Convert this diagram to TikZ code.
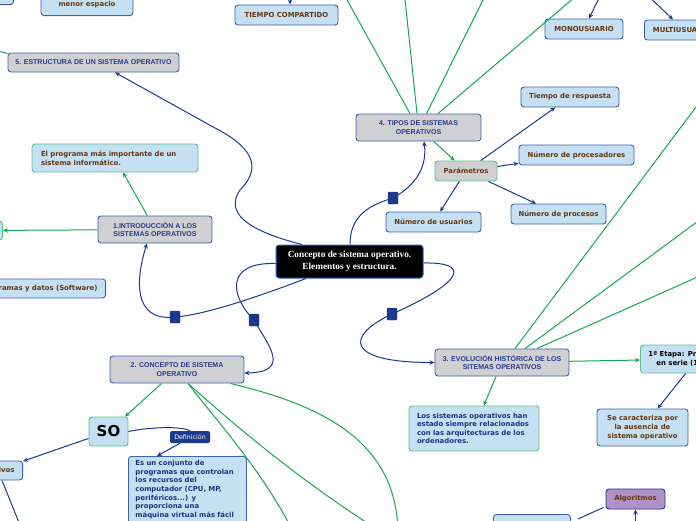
\documentclass[tikz,border=0pt]{standalone}
\usepackage{fontspec}
\setmainfont{DejaVu Sans}
\newfontfamily\titlefont{Liberation Sans}
\newfontfamily\centrefont{Liberation Serif}
\usetikzlibrary{arrows.meta, positioning}
\definecolor{linkblue}{RGB}{28,58,140}
\definecolor{linkgreen}{RGB}{18,168,82}
\definecolor{boxgray}{RGB}{208,208,211}
\definecolor{boxblue}{RGB}{198,224,243}
\definecolor{borderblue}{RGB}{62,96,168}
\definecolor{bordergreen}{RGB}{92,192,140}
\definecolor{titleblue}{RGB}{40,60,140}
\definecolor{leafbrown}{RGB}{100,55,15}
\definecolor{navytext}{RGB}{30,50,130}
\definecolor{centreborder}{RGB}{40,100,200}
\definecolor{algofill}{RGB}{176,146,200}

\begin{document}
\begin{tikzpicture}[
    x=1pt, y=-1pt,
    topic/.style={draw=borderblue, fill=boxgray, line width=0.9pt, rounded corners=3pt,
        align=center, text=titleblue, inner sep=2pt,
        font=\titlefont\bfseries\fontsize{7}{8.4}\selectfont},
    leaf/.style={draw=borderblue, fill=boxblue, line width=0.9pt, rounded corners=3pt,
        align=center, text=leafbrown, inner sep=2pt, minimum height=20pt,
        font=\bfseries\fontsize{6.9}{8.6}\selectfont},
    greenleaf/.style={leaf, draw=bordergreen},
    bluelink/.style={draw=linkblue, line width=1pt, -{Stealth[length=5pt,width=4.5pt]}},
    blueline/.style={draw=linkblue, line width=1pt},
    greenlink/.style={draw=linkgreen, line width=1pt, -{Stealth[length=5pt,width=4.5pt]}},
    greenline/.style={draw=linkgreen, line width=1pt},
    sqmark/.style={fill=linkblue, draw=linkblue, minimum width=10pt, minimum height=12pt,
        inner sep=0pt, rounded corners=1pt}
]
    \useasboundingbox (0,0) rectangle (696,520);
    \clip (0,0) rectangle (696,520);

    % Centre
    \node[draw=centreborder, fill=black, text=white, line width=1pt, rounded corners=3pt,
        minimum width=147pt, minimum height=33pt, align=center,
        font=\centrefont\bfseries\fontsize{9.3}{11.7}\selectfont]
        (centre) at (349.5,261.5) {Concepto de sistema operativo.\\Elementos y estructura.};

    % Topics
    \node[topic, minimum width=171pt, minimum height=19pt] (estructura) at (93.5,62.5) {5. ESTRUCTURA DE UN SISTEMA OPERATIVO};
    \node[topic, minimum width=125pt, minimum height=27pt] (tipos) at (418.5,127.5) {4. TIPOS DE SISTEMAS\\OPERATIVOS};
    \node[topic, minimum width=114pt, minimum height=27pt] (intro) at (155,229.5) {1.INTRODUCCIÓN A LOS\\SISTEMAS OPERATIVOS};
    \node[topic, minimum width=134pt, minimum height=27pt] (concepto) at (177,369.5) {2. CONCEPTO DE SISTEMA\\OPERATIVO};
    \node[topic, minimum width=134pt, minimum height=27pt] (evolucion) at (502,362.5) {3. EVOLUCIÓN HISTÓRICA DE LOS\\SITEMAS OPERATIVOS};

    % 4. Tipos
    \node[leaf, fill=boxgray, draw=bordergreen, minimum width=62pt] (param) at (466,171) {Parámetros};
    \node[leaf, minimum width=98pt] (respuesta) at (570,97) {Tiempo de respuesta};
    \node[leaf, minimum width=115pt] (procesadores) at (576.5,155) {Número de procesadores};
    \node[leaf, minimum width=95pt] (procesos) at (558.5,214) {Número de procesos};
    \node[leaf, minimum width=95pt] (usuarios) at (433.5,222) {Número de usuarios};
    \node[leaf, minimum width=103pt] (compartido) at (286.5,15) {TIEMPO COMPARTIDO};
    \node[leaf, minimum width=78pt] (mono) at (584,29) {MONOUSUARIO};
    \node[leaf, anchor=west, inner xsep=8.5pt] (multi) at (644,30) {MULTIUSUARIO};

    % top left corner
    \node[leaf, anchor=south, minimum width=92pt, minimum height=30pt] (espacio) at (87,16) {máximo dentro del\\menor espacio};
    \node[leaf, anchor=south east, minimum width=40pt] (esquina) at (14,5) {};

    % 1. Introduccion
    \node[greenleaf, text width=148pt, inner xsep=9pt, align=left, minimum height=28pt] (programa) at (115,158) {El programa más importante de un\\sistema informático.};
    \node[greenleaf, anchor=east, minimum width=40pt, minimum height=19pt] (izquierda) at (3,230.5) {};
    \node[leaf, anchor=east, inner xsep=8pt, minimum height=19pt] (software) at (106,288.5) {Programas y datos (Software)};

    % 2. Concepto
    \node[greenleaf, text=black, minimum width=39pt, minimum height=29pt,
        font=\bfseries\fontsize{15}{15}\selectfont] (so) at (108.5,431.5) {SO};
    \node[fill=linkblue, text=white, rounded corners=1.5pt, minimum width=40pt, minimum height=12pt,
        inner sep=0pt, font=\fontsize{6.3}{7}\selectfont] (def) at (190,437) {Definición};
    \node[leaf, anchor=north west, text=navytext, align=left, text width=104pt, inner xsep=7pt,
        inner ysep=4pt, text depth=75pt] (defbox) at (128,456)
        {Es un conjunto de\\programas que controlan\\los recursos del\\computador (CPU, MP,\\periféricos...) y\\proporciona una\\máquina virtual más fácil};
    \node[leaf, anchor=east, inner xsep=8pt, minimum height=19pt] (objetivos) at (23,470.5) {Objetivos};

    % 3. Evolucion
    \node[greenleaf, text=navytext, align=left, text width=114pt, inner xsep=8pt, minimum height=45pt] (historia) at (474,428.5)
        {Los sistemas operativos han\\estado siempre relacionados\\con las arquitecturas de los\\ordenadores.};
    \node[greenleaf, text=black, anchor=west, inner xsep=8pt, minimum height=28pt] (etapa) at (640,359) {1ª Etapa: Procesamiento\\en serie (1940-1955)};
    \node[leaf, minimum width=91pt, minimum height=37pt] (ausencia) at (642.5,427.5) {Se caracteriza por\\la ausencia de\\sistema operativo};
    \node[leaf, fill=algofill, draw=linkblue, minimum width=59pt] (algoritmos) at (635.5,499) {Algoritmos};
    \node[leaf, anchor=north west, minimum width=77pt] (fondo) at (493,514) {};

    % Branches from the centre
    \coordinate (mk1) at (393,198);
    \coordinate (mk2) at (392,314);
    \coordinate (mk3) at (254,320);
    \coordinate (mk4) at (175,317);
    \draw[bluelink] ([xshift=0.5pt]centre.north) .. controls (350,215) and (370,205) .. (mk1)
        .. controls (418,184) and (427,165) .. ([xshift=5.5pt]tipos.south);
    \draw[bluelink] ([yshift=-1.5pt]centre.east) .. controls (470,262) and (466,281) .. (mk2)
        .. controls (345,336) and (345,362.5) .. (evolucion.west);
    \draw[bluelink] ([yshift=-2pt]centre.west) .. controls (225,262) and (230,296) .. (mk3)
        .. controls (268,345) and (292,372) .. ([yshift=-3.5pt]concepto.east);
    \draw[bluelink] ([xshift=-43.5pt]centre.south) .. controls (260,296) and (205,315) .. (mk4)
        .. controls (132,322) and (136,278) .. ([xshift=-8pt]intro.south);
    \draw[bluelink] ([xshift=-47.5pt]centre.north) .. controls (245,230) and (225,212) .. (240,190)
        .. controls (265,165) and (248,145) .. (215,128) -- ([xshift=21.5pt]estructura.south);
    \foreach \m in {mk1,mk2,mk3,mk4}
        \node[sqmark] (sq-\m) at (\m) {};

    % 4. Tipos links
    \draw[greenlink] (tipos) -- (param);
    \draw[bluelink] (param) -- (respuesta);
    \draw[bluelink] (param) -- (procesadores);
    \draw[bluelink] (param) -- (procesos);
    \draw[bluelink] (param) -- (usuarios);
    \coordinate (t1) at (336,-20);
    \coordinate (t2) at (403,-20);
    \coordinate (t3) at (493,-20);
    \coordinate (t4) at (595,-20);
    \draw[greenline] ([xshift=-8.5pt]tipos.north) -- (t1);
    \draw[greenline] ([xshift=-1.5pt]tipos.north) -- (t2);
    \draw[greenline] ([xshift=8pt]tipos.north) -- (t3);
    \draw[greenline] ([xshift=19.5pt]tipos.north) -- (t4);
    \coordinate (tc-in) at (290,-15);
    \coordinate (mono-in) at (603,-10);
    \coordinate (multi-in) at (642,-10);
    \draw[bluelink] (tc-in) -- ([xshift=3.5pt]compartido.north);
    \draw[bluelink] (mono-in) -- ([xshift=5pt]mono.north);
    \draw[bluelink] (multi-in) -- ([xshift=29pt]multi.north west);
    \coordinate (est-in) at (-20,46);
    \draw[greenline] (est-in) -- ([yshift=9pt]estructura.west);

    % 1. Introduccion links
    \draw[greenlink] (intro) -- (programa);
    \draw[greenlink] (intro) -- (izquierda);

    % 2. Concepto links
    \draw[greenlink] (concepto) -- (so);
    \coordinate (c1) at (378,530);
    \coordinate (c2) at (295,535);
    \coordinate (c3) at (398,535);
    \draw[greenline] ([xshift=11pt]concepto.south) .. controls (240,430) and (300,480) .. (c1);
    \draw[greenline] ([xshift=11pt]concepto.south) .. controls (220,425) and (262,470) .. (c2);
    \draw[greenline] ([xshift=-14pt]concepto.south east) .. controls (320,405) and (398,440) .. (c3);
    \draw[blueline] (so.east) .. controls (150,427) and (182,426) .. (def.north);
    \draw[bluelink] ([xshift=-10pt]def.south) -- ([xshift=29pt]defbox.north west);
    \draw[bluelink] (so) -- (objetivos);
    \coordinate (o1) at (22,530);
    \draw[blueline] ([xshift=-21pt]objetivos.south east) -- (o1);

    % 3. Evolucion links
    \draw[greenlink] (evolucion) -- (historia);
    \draw[greenlink] (evolucion) -- (etapa);
    \draw[bluelink] (etapa) -- (ausencia);
    \coordinate (e1) at (720,75);
    \coordinate (e2) at (720,205);
    \coordinate (e3) at (720,267);
    \draw[greenline] ([xshift=13pt]evolucion.north) -- (e1);
    \draw[greenline] ([xshift=23pt]evolucion.north) -- (e2);
    \draw[greenline] ([xshift=35pt]evolucion.north) -- (e3);
    \coordinate (algo-in) at (635.5,530);
    \draw[bluelink] (algo-in) -- (algoritmos.south);
    \draw[blueline] ([xshift=7pt,yshift=-5pt]fondo.north east) -- ([xshift=-2pt,yshift=2pt]algoritmos.south west);
\end{tikzpicture}
\end{document}
